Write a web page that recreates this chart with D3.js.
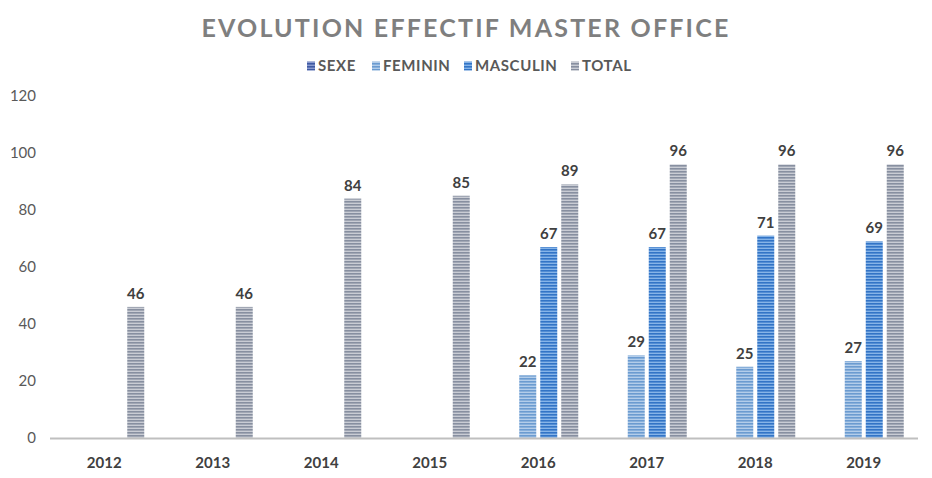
<!DOCTYPE html>
<html>
<head>
<meta charset="utf-8">
<script src="https://cdn.jsdelivr.net/npm/d3@7"></script>
<style>
  body { margin: 0; background: #fff; }
  text { font-family: 'Lato', 'Open Sans', sans-serif; }
</style>
</head>
<body>
<div id="chart"></div>
<script>
var years = ['2012', '2013', '2014', '2015', '2016', '2017', '2018', '2019'];
var seriesNames = ['SEXE', 'FEMININ', 'MASCULIN', 'TOTAL'];
var sexe = [null, null, null, null, null, null, null, null];
var feminin = [null, null, null, null, 22, 29, 25, 27];
var masculin = [null, null, null, null, 67, 67, 71, 69];
var total = [46, 46, 84, 85, 89, 96, 96, 96];
var yTicks = [0, 20, 40, 60, 80, 100, 120];

var colors = {
  SEXE: ['#3f5aa3', '#8b9bd0'],
  FEMININ: ['#6b9bd0', '#b3cdea'],
  MASCULIN: ['#3274c6', '#86b4e8'],
  TOTAL: ['#878fa0', '#c9ccd4']
};

var values = { SEXE: sexe, FEMININ: feminin, MASCULIN: masculin, TOTAL: total };

var width = 932, height = 478;
var svg = d3.select('#chart').append('svg')
  .attr('width', width)
  .attr('height', height);

var defs = svg.append('defs');
seriesNames.forEach(function (s, i) {
  var p = defs.append('pattern')
    .attr('id', 'pat' + i)
    .attr('patternUnits', 'userSpaceOnUse')
    .attr('width', 4)
    .attr('height', 3);
  p.append('rect').attr('width', 4).attr('height', 3).attr('fill', colors[s][1]);
  p.append('rect').attr('width', 4).attr('height', 1.6).attr('fill', colors[s][0]);
});

var x = d3.scaleBand().domain(years).range([50, 918]);
var y = d3.scaleLinear().domain([0, 120]).range([438, 96]);
var inner = d3.scaleBand().domain(seriesNames).range([-42, 42]).paddingInner(4 / 21).paddingOuter(2 / 21);

// title
svg.append('text')
  .attr('x', 466)
  .attr('y', 37)
  .attr('text-anchor', 'middle')
  .attr('fill', '#7f7f7f')
  .style('font-size', '25px')
  .style('font-weight', 'bold')
  .style('letter-spacing', '2.2px')
  .text('EVOLUTION EFFECTIF MASTER OFFICE');

// legend
var legendX = [307, 372, 464, 571];
seriesNames.forEach(function (s, i) {
  var g = svg.append('g').attr('transform', 'translate(' + legendX[i] + ',60)');
  g.append('rect').attr('width', 8).attr('height', 9).attr('y', 1.5).attr('fill', 'url(#pat' + i + ')');
  g.append('text')
    .attr('x', 11)
    .attr('y', 11)
    .attr('fill', '#595959')
    .style('font-size', '15px')
    .style('font-weight', 'bold')
    .style('letter-spacing', '0.6px')
    .text(s);
});

// y axis labels
svg.append('g').selectAll('text')
  .data(yTicks)
  .enter()
  .append('text')
  .attr('x', 36)
  .attr('y', function (d) { return y(d) + 5; })
  .attr('text-anchor', 'end')
  .attr('fill', '#595959')
  .style('font-size', '15px')
  .text(function (d) { return d; });

// bars
seriesNames.forEach(function (s, i) {
  var vals = values[s];
  var g = svg.append('g');
  years.forEach(function (yr, j) {
    var v = vals[j];
    if (v == null) return;
    var bx = x(yr) + x.bandwidth() / 2 + inner(s);
    g.append('rect')
      .attr('x', bx)
      .attr('y', y(v))
      .attr('width', inner.bandwidth())
      .attr('height', y(0) - y(v))
      .attr('fill', 'url(#pat' + i + ')');
    g.append('text')
      .attr('x', bx + inner.bandwidth() / 2)
      .attr('y', y(v) - 8)
      .attr('text-anchor', 'middle')
      .attr('fill', '#404040')
      .style('font-size', '15px')
      .style('font-weight', 'bold')
      .text(v);
  });
});

// x axis
svg.append('line')
  .attr('x1', 50).attr('x2', 918)
  .attr('y1', 438.5).attr('y2', 438.5)
  .attr('stroke', '#bfbfbf')
  .attr('stroke-width', 2);

svg.append('g').selectAll('text')
  .data(years)
  .enter()
  .append('text')
  .attr('x', function (d) { return x(d) + x.bandwidth() / 2; })
  .attr('y', 468)
  .attr('text-anchor', 'middle')
  .attr('fill', '#404040')
  .style('font-size', '15px')
  .style('font-weight', 'bold')
  .text(function (d) { return d; });
</script>
</body>
</html>
